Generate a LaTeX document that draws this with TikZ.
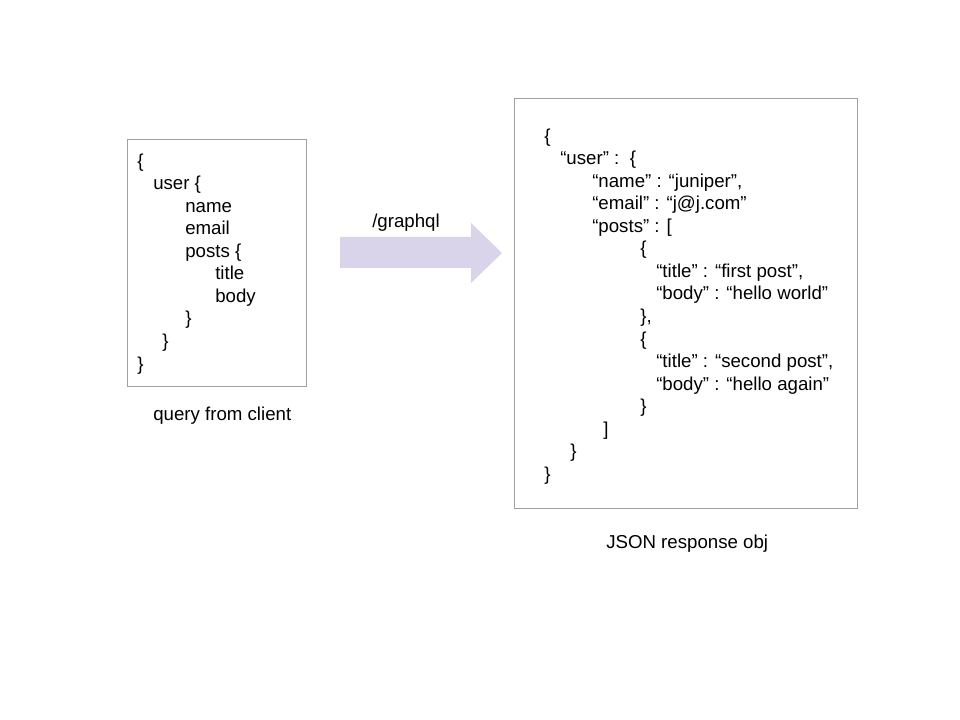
\documentclass[tikz,border=0pt]{standalone}
\usepackage{fontspec}
\setmainfont{Liberation Sans}
\usetikzlibrary{positioning}
\definecolor{boxgray}{RGB}{160,160,160}
\definecolor{arrowfill}{RGB}{217,212,233}

\begin{document}
\begin{tikzpicture}[x=0.75pt,y=-0.75pt,
  code/.style={anchor=base west,inner sep=0pt,font=\fontsize{14}{16.8}\selectfont},
  codebox/.style={draw=boxgray,line width=0.75pt}]

  \useasboundingbox (0,0) rectangle (960,720);

  % query from client
  \draw[codebox] (127,140) rectangle (306,386);
  \node[code] (q1)  at (137,167.5) {\{};
  \node[code] (q2)  at (153,190)   {user \{};
  \node[code] (q3)  at (185,212.5) {name};
  \node[code] (q4)  at (185,235)   {email};
  \node[code] (q5)  at (185,257.5) {posts \{};
  \node[code] (q6)  at (215,280)   {title};
  \node[code] (q7)  at (215,302.5) {body};
  \node[code] (q8)  at (185,325)   {\}};
  \node[code] (q9)  at (162,347.5) {\}};
  \node[code] (q10) at (137,370)   {\}};
  \node[code] (qlabel) at (153,420) {query from client};

  % request arrow
  \fill[arrowfill] (340,237) -- (471,237) -- (471,223) -- (502,253)
    -- (471,283) -- (471,268) -- (340,268) -- cycle;
  \node[code] (route) at (372,228) {/graphql};

  % JSON response
  \draw[codebox] (514,99) rectangle (857,508);
  \node[code] (r1)  at (544,142.5) {\{};
  \node[code] (r2)  at (560,165)   {“user” :\ \ \{};
  \node[code] (r3)  at (592,187.5) {“name” : “juniper”,};
  \node[code] (r4)  at (592,210)   {“email” : “j@j.com”};
  \node[code] (r5)  at (592,232.5) {“posts” : [};
  \node[code] (r6)  at (640,255)   {\{};
  \node[code] (r7)  at (656,277.5) {“title” : “first post”,};
  \node[code] (r8)  at (656,300)   {“body” : “hello world”};
  \node[code] (r9)  at (640,322.5) {\},};
  \node[code] (r10) at (640,345)   {\{};
  \node[code] (r11) at (656,367.5) {“title” : “second post”,};
  \node[code] (r12) at (656,390)   {“body” : “hello again”};
  \node[code] (r13) at (640,412.5) {\}};
  \node[code] (r14) at (603,435)   {]};
  \node[code] (r15) at (570,457.5) {\}};
  \node[code] (r16) at (544,480)   {\}};
  \node[code] (rlabel) at (606,548) {JSON response obj};
\end{tikzpicture}
\end{document}
